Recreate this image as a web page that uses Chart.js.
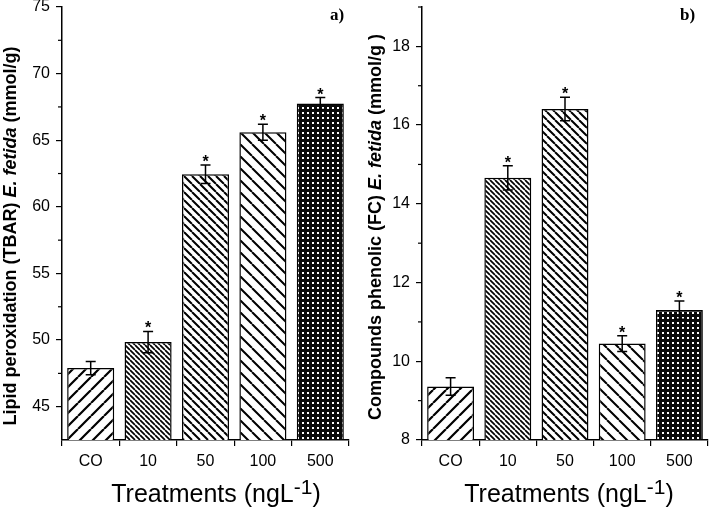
<!DOCTYPE html>
<html>
<head>
<meta charset="utf-8">
<script src="https://cdn.jsdelivr.net/npm/chart.js@4"></script>
<style>
  body { margin: 0; background: #fff; width: 709px; height: 511px; position: relative; overflow: hidden; }
  .panel { position: absolute; top: 0; height: 511px; }
  #panelA { left: 0; width: 355px; }
  #panelB { left: 355px; width: 354px; }
</style>
</head>
<body>
<div class="panel" id="panelA"><canvas id="chartA" width="355" height="511"></canvas></div>
<div class="panel" id="panelB"><canvas id="chartB" width="354" height="511"></canvas></div>
<script>
// Data
const categories = ['CO', '10', '50', '100', '500'];

const lipidValues = [47.9, 49.85, 62.45, 65.6, 67.75];
const lipidErrors = [0.5, 0.8, 0.7, 0.6, 0.45];
const lipidTicks = [45, 50, 55, 60, 65, 70, 75];
const lipidMinorTicks = [47.5, 52.5, 57.5, 62.5, 67.5, 72.5];

const phenolValues = [9.36, 14.66, 16.41, 10.45, 11.3];
const phenolErrors = [0.22, 0.31, 0.3, 0.2, 0.23];
const phenolTicks = [8, 10, 12, 14, 16, 18];
const phenolMinorTicks = [9, 11, 13, 15, 17, 19];

const significant = [false, true, true, true, true];

Chart.defaults.font.family = '"Liberation Sans", Arial, sans-serif';
Chart.defaults.color = '#000';

// hatch fills for the bars
function makePatterns(ctx) {
  function lines(s, dir, lw) {
    const c = document.createElement('canvas');
    c.width = s; c.height = s;
    const g = c.getContext('2d');
    g.fillStyle = '#fff';
    g.fillRect(0, 0, s, s);
    g.strokeStyle = '#000';
    g.lineWidth = lw;
    g.beginPath();
    for (let k = -1; k <= 1; k++) {
      if (dir > 0) { g.moveTo(k * s, s); g.lineTo(k * s + s, 0); }
      else { g.moveTo(k * s, 0); g.lineTo(k * s + s, s); }
    }
    g.stroke();
    return ctx.createPattern(c, 'repeat');
  }
  function dots() {
    const c = document.createElement('canvas');
    c.width = 5; c.height = 5;
    const g = c.getContext('2d');
    g.fillStyle = '#0a0a0a';
    g.fillRect(0, 0, 5, 5);
    g.fillStyle = '#fff';
    g.fillRect(2, 2, 2, 2);
    return ctx.createPattern(c, 'repeat');
  }
  return [lines(13, 1, 2.2), lines(5, -1, 1.7), lines(8, -1, 2), lines(12, -1, 2), dots()];
}

// error bars + asterisks
const errorBars = {
  id: 'errorBars',
  afterDatasetsDraw(chart, args, o) {
    const ctx = chart.ctx;
    const y = chart.scales.y;
    const meta = chart.getDatasetMeta(0);
    ctx.save();
    ctx.strokeStyle = '#000';
    ctx.fillStyle = '#000';
    ctx.lineWidth = 1.5;
    meta.data.forEach((bar, i) => {
      const v = o.values[i], e = o.errors[i];
      const yt = y.getPixelForValue(v + e);
      const yb = y.getPixelForValue(v - e);
      const cap = 5;
      ctx.beginPath();
      ctx.moveTo(bar.x, yt); ctx.lineTo(bar.x, yb);
      ctx.moveTo(bar.x - cap, yt); ctx.lineTo(bar.x + cap, yt);
      ctx.moveTo(bar.x - cap, yb); ctx.lineTo(bar.x + cap, yb);
      ctx.stroke();
      if (o.stars[i]) {
        ctx.font = 'bold 16px "Liberation Sans", Arial, sans-serif';
        ctx.textAlign = 'center';
        ctx.textBaseline = 'alphabetic';
        ctx.fillText('*', bar.x, yt + 2);
      }
    });
    ctx.restore();
  }
};

// minor ticks, axis titles, panel letter
const panelDecor = {
  id: 'panelDecor',
  afterDraw(chart, args, o) {
    const ctx = chart.ctx;
    const y = chart.scales.y;
    const left = chart.chartArea.left;
    ctx.save();
    ctx.strokeStyle = '#000';
    ctx.lineWidth = 1.2;
    o.minor.forEach(v => {
      const py = y.getPixelForValue(v);
      ctx.beginPath();
      ctx.moveTo(left - 4, py); ctx.lineTo(left, py);
      ctx.stroke();
    });

    // y title with italic species name
    const base = 'bold 18px "Liberation Sans", Arial, sans-serif';
    const ital = 'italic bold 18px "Liberation Sans", Arial, sans-serif';
    let total = 0;
    o.yTitle.forEach(s => { ctx.font = s.italic ? ital : base; total += ctx.measureText(s.text).width; });
    ctx.translate(o.yTitleX, o.yTitleY);
    ctx.rotate(-Math.PI / 2);
    ctx.textBaseline = 'middle';
    ctx.textAlign = 'left';
    ctx.fillStyle = '#000';
    let pos = -total / 2;
    o.yTitle.forEach(s => {
      ctx.font = s.italic ? ital : base;
      ctx.fillText(s.text, pos, 0);
      pos += ctx.measureText(s.text).width;
    });
    ctx.setTransform(1, 0, 0, 1, 0, 0);

    // x title with superscript
    const main = '25px "Liberation Sans", Arial, sans-serif';
    const sup = '21px "Liberation Sans", Arial, sans-serif';
    ctx.textBaseline = 'alphabetic';
    ctx.font = main;
    const w1 = ctx.measureText('Treatments (ngL').width;
    const w3 = ctx.measureText(')').width;
    ctx.font = sup;
    const w2 = ctx.measureText('-1').width;
    let xs = o.xTitleX - (w1 + w2 + w3) / 2;
    ctx.font = main;
    ctx.fillText('Treatments (ngL', xs, 502);
    ctx.font = sup;
    ctx.fillText('-1', xs + w1, 494);
    ctx.font = main;
    ctx.fillText(')', xs + w1 + w2, 502);

    // panel letter
    ctx.font = 'bold 17px "Liberation Serif", "Times New Roman", serif';
    ctx.fillText(o.label, o.labelX, 20);
    ctx.restore();
  }
};

function makePanel(id, values, errors, ticks, minor, yMin, yMax, yWidth, padRight, decor) {
  const canvas = document.getElementById(id);
  const ctx = canvas.getContext('2d');
  return new Chart(ctx, {
    type: 'bar',
    data: {
      labels: categories,
      datasets: [{
        data: values,
        backgroundColor: makePatterns(ctx),
        borderColor: '#000',
        borderWidth: 1.5,
        barPercentage: 0.82,
        categoryPercentage: 1
      }]
    },
    options: {
      responsive: false,
      animation: false,
      layout: { padding: { left: 0, right: padRight, top: 7, bottom: 0 } },
      plugins: {
        legend: { display: false },
        tooltip: { enabled: false },
        errorBars: { values: values, errors: errors, stars: significant },
        panelDecor: decor
      },
      scales: {
        x: {
          offset: true,
          grid: { offset: true, drawOnChartArea: false, drawTicks: true, tickLength: 6, color: '#000', lineWidth: 1.2 },
          border: { color: '#000', width: 1.5 },
          ticks: { font: { size: 16 }, padding: 6, color: '#000', maxRotation: 0 },
          afterFit(scale) { scale.height = 71; scale.paddingLeft = 0; scale.paddingRight = 0; }
        },
        y: {
          min: yMin,
          max: yMax,
          afterBuildTicks(scale) { scale.ticks = ticks.map(v => ({ value: v })); },
          grid: { drawOnChartArea: false, drawTicks: true, tickLength: 6, color: '#000', lineWidth: 1.2 },
          border: { color: '#000', width: 1.5 },
          ticks: { font: { size: 16 }, padding: 6, color: '#000' },
          afterFit(scale) { scale.width = yWidth; scale.paddingTop = 0; scale.paddingBottom = 0; }
        }
      }
    },
    plugins: [errorBars, panelDecor]
  });
}

makePanel('chartA', lipidValues, lipidErrors, lipidTicks, lipidMinorTicks, 42.5, 75, 62, 6, {
  minor: lipidMinorTicks,
  yTitle: [
    { text: 'Lipid peroxidation (TBAR) ', italic: false },
    { text: 'E. fetida', italic: true },
    { text: ' (mmol/g)', italic: false }
  ],
  yTitleX: 11, yTitleY: 236,
  xTitleX: 216,
  label: 'a)', labelX: 330
});

makePanel('chartB', phenolValues, phenolErrors, phenolTicks, phenolMinorTicks, 8, 19, 67, 1, {
  minor: phenolMinorTicks,
  yTitle: [
    { text: 'Compounds phenolic (FC) ', italic: false },
    { text: 'E. fetida', italic: true },
    { text: ' (mmol/g )', italic: false }
  ],
  yTitleX: 21, yTitleY: 227,
  xTitleX: 214,
  label: 'b)', labelX: 325
});
</script>
</body>
</html>
